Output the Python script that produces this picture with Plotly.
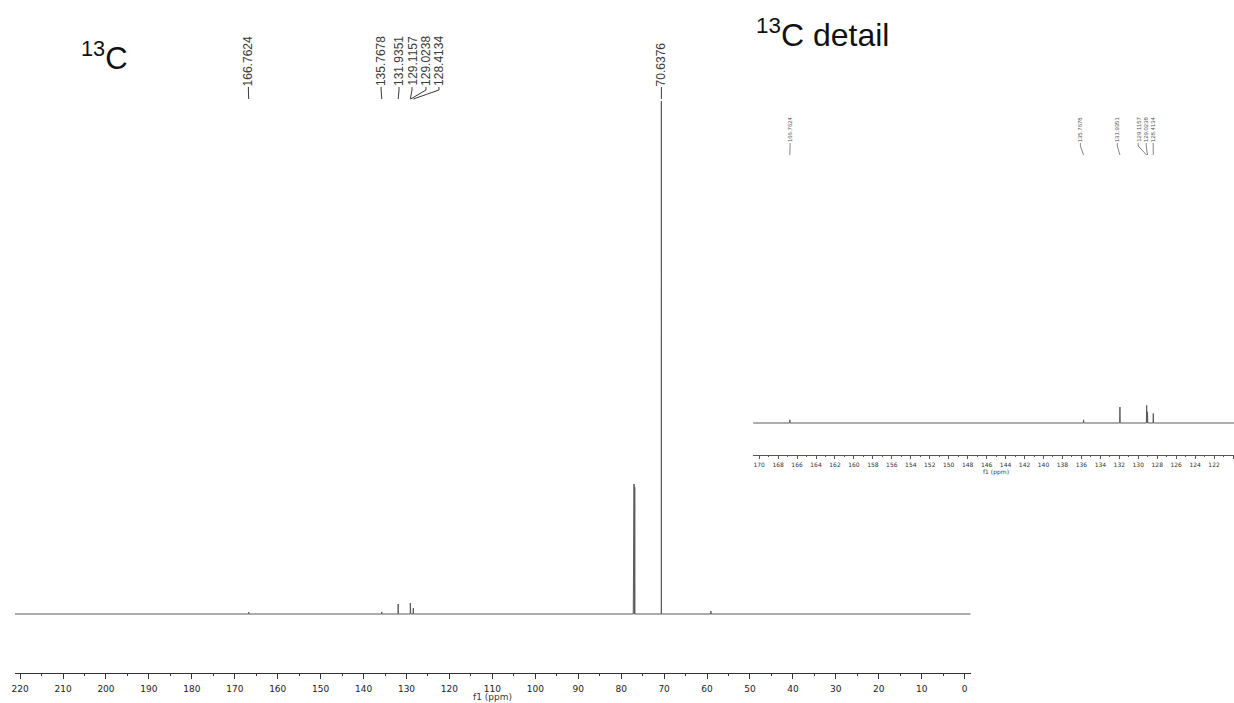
import plotly.graph_objects as go

# 13C peak list: chemical shift (ppm) and relative intensity
shifts = [166.7624, 135.7678, 131.9351, 129.1157, 129.0238, 128.4134,
          77.16, 77.00, 76.84, 70.6376, 59.10]
intensity = [2, 2, 10, 11, 7, 6, 128, 130, 127, 513, 3]

# picked peaks shown with their shift values
picked_main = [166.7624, 135.7678, 131.9351, 129.1157, 129.0238, 128.4134, 70.6376]
picked_detail = [166.7624, 135.7678, 131.9351, 129.1157, 129.0238, 128.4134]

main_ticks = list(range(0, 221, 10))
detail_ticks = list(range(120, 171, 2))

W, H = 1234, 703

# axis geometry (pixels)
MAIN_X0, MAIN_X1 = 12, 970
MAIN_RANGE = [221.2, -1.4]
DET_X0, DET_X1 = 752, 1234
DET_RANGE = [170.63, 119.9]

# label slots along each axis (pixels)
main_label_px = [246, 379, 397, 410, 424, 437, 660]
detail_label_px = [789, 1080, 1117, 1138, 1146, 1153]

LINE = "#5a5a5a"
TXT = "#3a3a3a"


def px_to_ppm(px, x0, x1, rng):
    return rng[0] + (px - x0) * (rng[1] - rng[0]) / (x1 - x0)


def ypaper(py):
    return 1 - py / H


# stick spectrum built from the peak list
half_w = 0.03
order = sorted(range(len(shifts)), key=lambda i: -shifts[i])
xs, ys = [MAIN_RANGE[0]], [0]
for i in order:
    p, h = shifts[i], intensity[i]
    xs += [p + half_w, p, p - half_w]
    ys += [0, h, 0]
xs.append(MAIN_RANGE[1])
ys.append(0)

fig = go.Figure()
fig.add_trace(go.Scatter(x=xs, y=ys, mode="lines", line=dict(color=LINE, width=1),
                         xaxis="x", yaxis="y", hoverinfo="skip"))
fig.add_trace(go.Scatter(x=xs, y=ys, mode="lines", line=dict(color=LINE, width=1),
                         xaxis="x2", yaxis="y2", hoverinfo="skip"))

annotations = []
shapes = []

# peak labels on the full spectrum
for ppm, lpx in zip(picked_main, main_label_px):
    lx = px_to_ppm(lpx, MAIN_X0, MAIN_X1, MAIN_RANGE)
    annotations.append(dict(x=lx, xref="x", y=ypaper(87), yref="paper",
                            text=f"{ppm:.4f}", textangle=-90, showarrow=False,
                            xanchor="center", yanchor="bottom", borderpad=0,
                            font=dict(family="Liberation Sans, Arial", size=12, color=TXT)))
    shapes.append(dict(type="line", xref="x", yref="paper", x0=lx, x1=lx,
                       y0=ypaper(87), y1=ypaper(90), line=dict(color=TXT, width=1)))
    shapes.append(dict(type="line", xref="x", yref="paper", x0=lx, x1=ppm,
                       y0=ypaper(90), y1=ypaper(99), line=dict(color=TXT, width=1)))

# peak labels on the detail view
for ppm, lpx in zip(picked_detail, detail_label_px):
    lx = px_to_ppm(lpx, DET_X0, DET_X1, DET_RANGE)
    annotations.append(dict(x=lx, xref="x2", y=ypaper(143), yref="paper",
                            text=f"{ppm:.4f}", textangle=-90, showarrow=False,
                            xanchor="center", yanchor="bottom", borderpad=0,
                            font=dict(family="Liberation Sans, Arial", size=6, color="#555")))
    shapes.append(dict(type="line", xref="x2", yref="paper", x0=lx, x1=lx,
                       y0=ypaper(143), y1=ypaper(146), line=dict(color="#666", width=0.8)))
    shapes.append(dict(type="line", xref="x2", yref="paper", x0=lx, x1=ppm,
                       y0=ypaper(146), y1=ypaper(155), line=dict(color="#666", width=0.8)))

# titles
annotations.append(dict(x=76 / W, xref="paper", y=ypaper(34), yref="paper",
                        text="<sup>13</sup>C", showarrow=False, xanchor="left", yanchor="top",
                        font=dict(family="Liberation Sans, Arial", size=31, color="#111")))
annotations.append(dict(x=753 / W, xref="paper", y=ypaper(11), yref="paper",
                        text="<sup>13</sup>C detail", showarrow=False, xanchor="left", yanchor="top",
                        font=dict(family="Liberation Sans, Arial", size=32, color="#111")))

# axis titles
annotations.append(dict(x=110, xref="x", y=ypaper(697), yref="paper", text="f1 (ppm)",
                        showarrow=False, xanchor="center", yanchor="middle",
                        font=dict(family="DejaVu Sans", size=9, color=TXT)))
annotations.append(dict(x=145, xref="x2", y=ypaper(472), yref="paper", text="f1 (ppm)",
                        showarrow=False, xanchor="center", yanchor="middle",
                        font=dict(family="DejaVu Sans", size=6, color=TXT)))

fig.update_layout(
    width=W, height=H,
    margin=dict(l=0, r=0, t=0, b=0),
    paper_bgcolor="white", plot_bgcolor="white",
    showlegend=False,
    xaxis=dict(domain=[MAIN_X0 / W, MAIN_X1 / W], range=MAIN_RANGE, anchor="y",
               tickmode="array", tickvals=main_ticks, ticktext=[str(t) for t in main_ticks],
               ticks="outside", ticklen=5, tickcolor="#333", tickwidth=1,
               minor=dict(ticks="outside", ticklen=2, dtick=5, tick0=0, tickcolor="#333"),
               showline=True, linecolor="#333", linewidth=1, showgrid=False, zeroline=False,
               ticklabelstandoff=2,
               tickfont=dict(family="DejaVu Sans", size=9, color="#222")),
    yaxis=dict(domain=[1 - 673 / H, 1], range=[-59, 614], visible=False, anchor="x"),
    xaxis2=dict(domain=[DET_X0 / W, DET_X1 / W], range=DET_RANGE, anchor="y2",
                tickmode="array", tickvals=detail_ticks, ticktext=[str(t) for t in detail_ticks],
                ticks="outside", ticklen=3, tickcolor="#555", tickwidth=0.8,
                minor=dict(ticks="outside", ticklen=1.5, dtick=1, tick0=0, tickcolor="#555"),
                showline=True, linecolor="#555", linewidth=0.8, showgrid=False, zeroline=False,
                ticklabelstandoff=1,
                tickfont=dict(family="DejaVu Sans", size=6, color="#333")),
    yaxis2=dict(domain=[1 - 455 / H, 1 - 355 / H], range=[-20, 42.5], visible=False, anchor="x2"),
    annotations=annotations,
    shapes=shapes,
)

fig.write_html("out.html")
